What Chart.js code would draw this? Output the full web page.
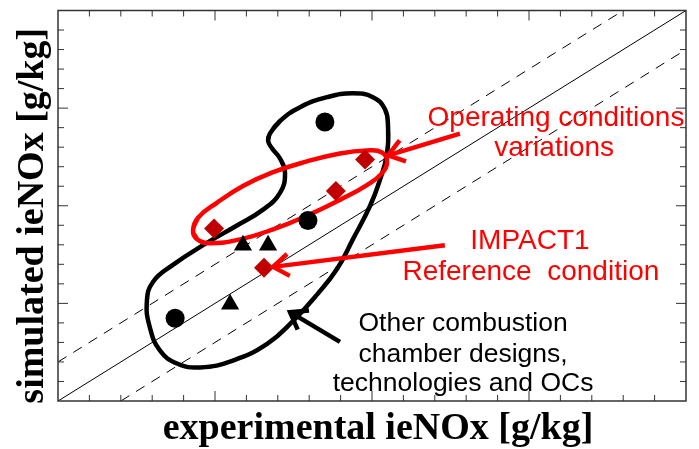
<!DOCTYPE html>
<html>
<head>
<meta charset="utf-8">
<script src="https://cdn.jsdelivr.net/npm/chart.js@4.4.0/dist/chart.umd.min.js"></script>
<style>
  html, body { margin: 0; padding: 0; background: #fff; }
  #wrap { width: 699px; height: 449px; }
</style>
</head>
<body>
<div id="wrap"><canvas id="c" width="699" height="449"></canvas></div>
<script>
// ---- axis range and ticks (g/kg) ----
const axisMin = 0;
const axisMax = 20;
const minorTicks = [1,2,3,4,6,7,8,9,11,12,13,14,16,17,18,19];
const majorTicks = [5,10,15];
const xTitle = 'experimental ieNOx [g/kg]';
const yTitle = 'simulated ieNOx [g/kg]';

// ---- parity lines: y = x and the +/- 2 g/kg band ----
const parityX = [0, 20];
const parityY = [0, 20];
const upperBandX = [0, 18];
const upperBandY = [2, 20];
const lowerBandX = [2, 20];
const lowerBandY = [0, 18];

// ---- measured vs simulated points ----
const circleX = [8.50, 7.96, 3.73];
const circleY = [14.29, 9.24, 4.24];
const triangleX = [5.89, 6.69, 5.48];
const triangleY = [7.98, 7.98, 4.95];
const diamondX = [4.97, 6.56, 8.85, 9.78];
const diamondY = [8.84, 6.82, 10.76, 12.37];

// ---- outline of the other combustor designs ----
const blobX = [6.75, 7.07, 7.71, 8.57, 9.39, 10.03, 10.41, 10.51, 10.48, 10.25, 9.94, 9.39, 8.89, 8.25, 7.48, 6.66, 5.57, 4.52, 3.79, 3.25, 2.93, 2.83, 3.03, 3.66, 4.62, 5.70, 6.53, 7.07, 7.23, 7.07, 6.82, 6.69];
const blobY = [13.69, 14.34, 15.05, 15.56, 15.76, 15.56, 14.95, 14.04, 12.68, 11.31, 10.00, 8.28, 6.77, 5.45, 4.09, 2.93, 2.07, 1.72, 1.92, 2.58, 3.74, 5.10, 6.11, 6.97, 7.98, 8.99, 9.80, 10.66, 11.67, 12.42, 12.93, 13.33];

// ---- outline of the operating-condition variations ----
const ovalX = [4.30, 4.46, 5.06, 5.89, 6.85, 7.93, 8.98, 9.84, 10.32, 10.48, 10.32, 9.84, 8.98, 7.93, 6.85, 5.80, 4.84, 4.43];
const ovalY = [8.74, 9.39, 10.15, 11.01, 11.72, 12.27, 12.68, 12.83, 12.73, 12.27, 11.67, 11.06, 10.30, 9.49, 8.79, 8.28, 8.08, 8.28];

// ---- callout arrows (tail -> tip) ----
const arrowTailX = [12.80, 12.32, 8.98];
const arrowTailY = [13.69, 7.98, 3.03];
const arrowTipX = [10.51, 6.85, 7.39];
const arrowTipY = [12.58, 6.87, 4.55];
const arrowColor = ['#ff0000', '#ff0000', '#000000'];

// ---- callout labels ----
const labelLines = ['Operating conditions', 'variations', 'IMPACT1', 'Reference  condition', 'Other combustion', 'chamber designs,', 'technologies and OCs'];
const labelX = [15.86, 15.80, 15.03, 15.06, 12.90, 12.90, 12.90];
const labelY = [14.09, 12.53, 7.78, 6.21, 3.59, 2.02, 0.51];
const labelColor = ['#ff0000', '#ff0000', '#ff0000', '#ff0000', '#000000', '#000000', '#000000'];

const toXY = (xs, ys) => xs.map((x, i) => ({ x: x, y: ys[i] }));
// closed smooth outline: wrap neighbours so the spline joins cleanly
const closedXY = (xs, ys) => {
  const p = toXY(xs, ys);
  return [p[p.length - 1], ...p, p[0], p[1]];
};

const lineStyle = { showLine: true, pointRadius: 0, pointHoverRadius: 0, fill: false };

const decorPlugin = {
  id: 'decor',
  afterDatasetsDraw(chart) {
    const ctx = chart.ctx;
    const xs = chart.scales.x, ys = chart.scales.y;
    const a = chart.chartArea;
    ctx.save();

    // callout arrows
    for (let i = 0; i < arrowTipX.length; i++) {
      const x0 = xs.getPixelForValue(arrowTailX[i]), y0 = ys.getPixelForValue(arrowTailY[i]);
      const x1 = xs.getPixelForValue(arrowTipX[i]), y1 = ys.getPixelForValue(arrowTipY[i]);
      const ang = Math.atan2(y0 - y1, x0 - x1);
      const head = 19, spread = 0.62;
      ctx.strokeStyle = arrowColor[i];
      ctx.lineWidth = 4.5;
      ctx.lineCap = 'butt';
      ctx.lineJoin = 'miter';
      ctx.beginPath();
      ctx.moveTo(x0, y0);
      ctx.lineTo(x1 + Math.cos(ang) * 2, y1 + Math.sin(ang) * 2);
      ctx.stroke();
      ctx.beginPath();
      ctx.moveTo(x1 + head * Math.cos(ang + spread), y1 + head * Math.sin(ang + spread));
      ctx.lineTo(x1, y1);
      ctx.lineTo(x1 + head * Math.cos(ang - spread), y1 + head * Math.sin(ang - spread));
      ctx.stroke();
    }

    // callout labels
    ctx.textAlign = 'center';
    ctx.textBaseline = 'alphabetic';
    for (let i = 0; i < labelLines.length; i++) {
      ctx.fillStyle = labelColor[i];
      ctx.font = (labelColor[i] === '#000000' ? '26.5px' : '28px') + ' "Liberation Sans", Arial, sans-serif';
      ctx.fillText(labelLines[i], xs.getPixelForValue(labelX[i]), ys.getPixelForValue(labelY[i]));
    }

    // frame
    ctx.strokeStyle = '#333';
    ctx.lineWidth = 1.5;
    ctx.strokeRect(a.left, a.top, a.right - a.left, a.bottom - a.top);

    // inward ticks on all four sides
    ctx.lineWidth = 1;
    const tick = (v, len) => {
      const px = xs.getPixelForValue(v), py = ys.getPixelForValue(v);
      ctx.beginPath();
      ctx.moveTo(px, a.bottom); ctx.lineTo(px, a.bottom - len);
      ctx.moveTo(px, a.top); ctx.lineTo(px, a.top + len);
      ctx.moveTo(a.left, py); ctx.lineTo(a.left + len, py);
      ctx.moveTo(a.right, py); ctx.lineTo(a.right - len, py);
      ctx.stroke();
    };
    minorTicks.forEach(v => tick(v, 6));
    majorTicks.forEach(v => tick(v, 10));

    // axis titles
    ctx.fillStyle = '#000';
    ctx.font = 'bold 38px "Liberation Serif", "Times New Roman", serif';
    ctx.textAlign = 'center';
    ctx.fillText(xTitle, (a.left + a.right) / 2 + 6, a.bottom + 38);
    ctx.save();
    ctx.translate(a.left - 15, (a.top + a.bottom) / 2 + 10);
    ctx.rotate(-Math.PI / 2);
    ctx.fillText(yTitle, 0, 0);
    ctx.restore();

    ctx.restore();
  }
};

new Chart(document.getElementById('c'), {
  type: 'scatter',
  data: {
    datasets: [
      { label: 'diamonds', data: toXY(diamondX, diamondY), pointStyle: 'rectRot', pointRadius: 10,
        backgroundColor: '#c00000', borderColor: '#c00000', borderWidth: 0, order: 0 },
      { label: 'circles', data: toXY(circleX, circleY), pointStyle: 'circle', pointRadius: 9.5,
        backgroundColor: '#000', borderColor: '#000', borderWidth: 0, order: 1 },
      { label: 'triangles', data: toXY(triangleX, triangleY), pointStyle: 'triangle', pointRadius: 10.5,
        backgroundColor: '#000', borderColor: '#000', borderWidth: 0, order: 2 },
      Object.assign({ label: 'variations', data: closedXY(ovalX, ovalY), borderColor: '#ff0000', borderWidth: 4.5, tension: 0.45, order: 3 }, lineStyle),
      Object.assign({ label: 'other designs', data: closedXY(blobX, blobY), borderColor: '#000', borderWidth: 4.5, tension: 0.45, order: 4 }, lineStyle),
      Object.assign({ label: 'y=x', data: toXY(parityX, parityY), borderColor: '#000', borderWidth: 1, order: 5 }, lineStyle),
      Object.assign({ label: '+2', data: toXY(upperBandX, upperBandY), borderColor: '#000', borderWidth: 1, borderDash: [10, 8], order: 6 }, lineStyle),
      Object.assign({ label: '-2', data: toXY(lowerBandX, lowerBandY), borderColor: '#000', borderWidth: 1, borderDash: [10, 8], order: 7 }, lineStyle)
    ]
  },
  options: {
    responsive: false,
    animation: false,
    devicePixelRatio: 1,
    layout: { padding: { left: 58, top: 5, right: 13, bottom: 48 } },
    scales: {
      x: { type: 'linear', min: axisMin, max: axisMax, display: false },
      y: { type: 'linear', min: axisMin, max: axisMax, display: false }
    },
    plugins: { legend: { display: false }, tooltip: { enabled: false } },
    events: []
  },
  plugins: [decorPlugin]
});
</script>
</body>
</html>
